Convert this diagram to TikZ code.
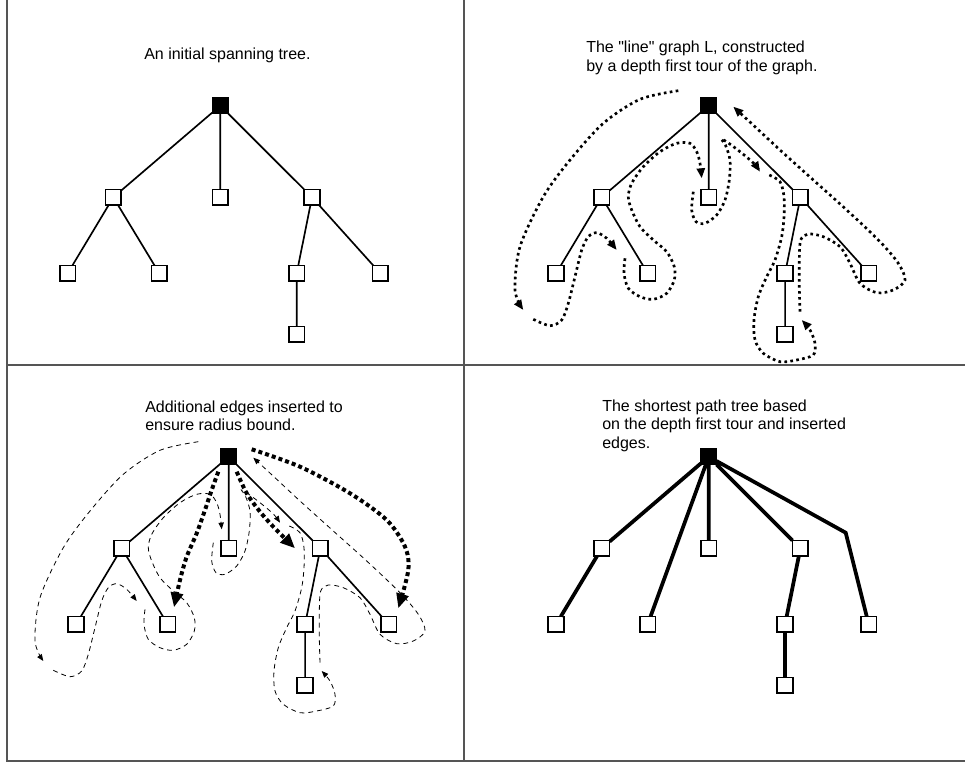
\documentclass[tikz,border=0pt]{standalone}
\usepackage{fontspec}
\setmainfont{Liberation Sans}
\usetikzlibrary{arrows.meta}
\newcommand\mytree[1]{%
  \node[rootsq] (#1R) at (220.3,105.7) {};
  \node[sq] (#1A) at (113.3,197.3) {};
  \node[sq] (#1B) at (220.3,197.3) {};
  \node[sq] (#1C) at (312,197.3) {};
  \node[sq] (#1A1) at (67.7,273.3) {};
  \node[sq] (#1A2) at (159.3,273.3) {};
  \node[sq] (#1C1) at (296.7,273.3) {};
  \node[sq] (#1C2) at (380.3,273.3) {};
  \node[sq] (#1D) at (296.7,334.3) {};
}
\newcommand\myedges[1]{%
  \draw[treeline] (#1R)--(#1A) (#1R)--(#1B) (#1R)--(#1C)
    (#1A)--(#1A1) (#1A)--(#1A2) (#1C)--(#1C1) (#1C)--(#1C2) (#1C1)--(#1D);
}
\newcommand\mytour[1]{%
  \draw[#1] plot[smooth] coordinates {(189.9,90.7) (151.6,99.3) (114.9,123.3) (81.6,160) (54.9,196.7) (31.6,246.7) (26.6,290) (34.9,310)};
  \draw[#1] plot[smooth] coordinates {(44.9,319.3) (61.6,325.7) (73.3,320) (79.9,303.3) (86.6,276.7) (93.3,250) (99.9,236.7) (108.3,232.7) (118.3,238.3) (128.3,250)};
  \draw[#1] plot[smooth] coordinates {(136.6,258.3) (135.6,273.3) (139.9,288.3) (151.6,296.7) (164.9,299.3) (178.3,293.3) (185.9,280) (185.9,266.7) (178.3,251.7) (164.9,240) (151.6,226.7) (143.3,210) (139.9,196.7) (143.3,183.3) (154.9,166.7) (171.6,151.7) (188.3,143.3) (201.6,143.3) (208.3,151.7) (211.6,163.3) (213.3,178.3)};
  \draw[#1] plot[smooth] coordinates {(204.9,191.7) (203.3,210) (207.6,221.7) (216.6,223.3) (228.3,215) (236.6,200) (240.9,180) (241.6,160) (237,145) (233,139) (240,143) (252,152) (265,163) (271.6,171.7)};
  \draw[#1] plot[smooth] coordinates {(280.9,175) (291.6,181.7) (295.6,196.7) (295.6,216.7) (293.3,236.7) (286.6,260) (278.3,276.7) (269.9,296.7) (265.6,320) (266.6,340) (274.9,353.3) (291.6,361.7) (308.3,360) (324.9,355) (326.6,343.3) (321.6,330) (313.3,320)};
  \draw[#1] plot[smooth] coordinates {(311.6,311.7) (310.9,286.7) (310.9,260) (312.3,240) (319.9,234) (334.9,236.7) (351.6,246.7) (361.6,263.3) (371.6,283.3) (388.3,292.7) (404.9,290) (416.6,280) (409.9,263.3) (391.6,241.7) (358.3,210) (324.9,180) (291.6,150) (268.3,128.3) (244.9,106.7)};
}
\begin{document}
\begin{tikzpicture}[x=0.75pt,y=-0.75pt,
  sq/.style={draw=black,line width=1.25pt,fill=white,minimum size=11.8pt,inner sep=0pt,outer sep=0pt},
  rootsq/.style={sq,fill=black},
  treeline/.style={line width=1.25pt},
  boldline/.style={line width=2.8pt},
  framec/.style={draw={rgb,255:red,85;green,85;blue,85},line width=0.9pt},
  caption/.style={anchor=base west,align=left,inner sep=0pt,font=\fontsize{12}{13.9}\selectfont},
  tourdot/.style={line width=2pt,dash pattern=on 2pt off 2.5pt,-{Triangle[length=7.5pt,width=6pt]}},
  tourdash/.style={line width=0.6pt,dash pattern=on 3.6pt off 3pt,-{Triangle[length=5pt,width=4pt]}},
  extra/.style={line width=3pt,dash pattern=on 3pt off 2.3pt,-{Triangle[length=11pt,width=9pt]}},
]
\useasboundingbox (0,0) rectangle (965,763);
% frame
\draw[framec] (7,0) -- (7,761) -- (965,761);
\draw[framec] (464,0) -- (464,761);
\draw[framec] (7,365) -- (965,365);
% captions (anchor at the baseline of the last line)
\node[caption] (t1) at (144,60) {An initial spanning tree.};
\node[caption] (t2) at (586,71.2) {The \textquotedbl line\textquotedbl{} graph L, constructed\\by a depth first tour of the graph.};
\node[caption] (t3) at (145,431) {Additional edges inserted to\\ensure radius bound.};
\node[caption] (t4) at (602,448.5) {The shortest path tree based\\on the depth first tour and inserted\\edges.};
% panel 1
\begin{scope}
  \mytree{a}
  \myedges{a}
\end{scope}
% panel 2
\begin{scope}[shift={(488.4,0)}]
  \mytree{b}
  \myedges{b}
  \mytour{tourdot}
\end{scope}
% panel 3
\begin{scope}[shift={(8.4,351)}]
  \mytree{c}
  \myedges{c}
  \mytour{tourdash}
  \draw[extra] plot[smooth] coordinates {(209.9,120.7) (203.3,139) (196.6,159) (188.3,182.3) (178.3,205.7) (171.6,229) (165.6,256.3)};
  \draw[extra] plot[smooth] coordinates {(228.3,120.7) (238.3,142.3) (251.6,160.7) (264.9,175.7) (286.6,197.3)};
  \draw[extra] plot[smooth] coordinates {(243.3,98.3) (291.6,115.7) (341.6,142.3) (378.3,169) (396.6,195.7) (399.9,219) (389.9,257.3)};
\end{scope}
% panel 4
\begin{scope}[shift={(488.4,351)}]
  \mytree{d}
  \coordinate (dK) at (357.3,181.7);
  \draw[boldline] (dR)--(dA) (dA)--(dA1) (dR)--(dA2) (dR)--(dB) (dR)--(dC)
    (dC)--(dC1) (dC1)--(dD) (dR)--(dK)--(dC2);
\end{scope}
\end{tikzpicture}
\end{document}
